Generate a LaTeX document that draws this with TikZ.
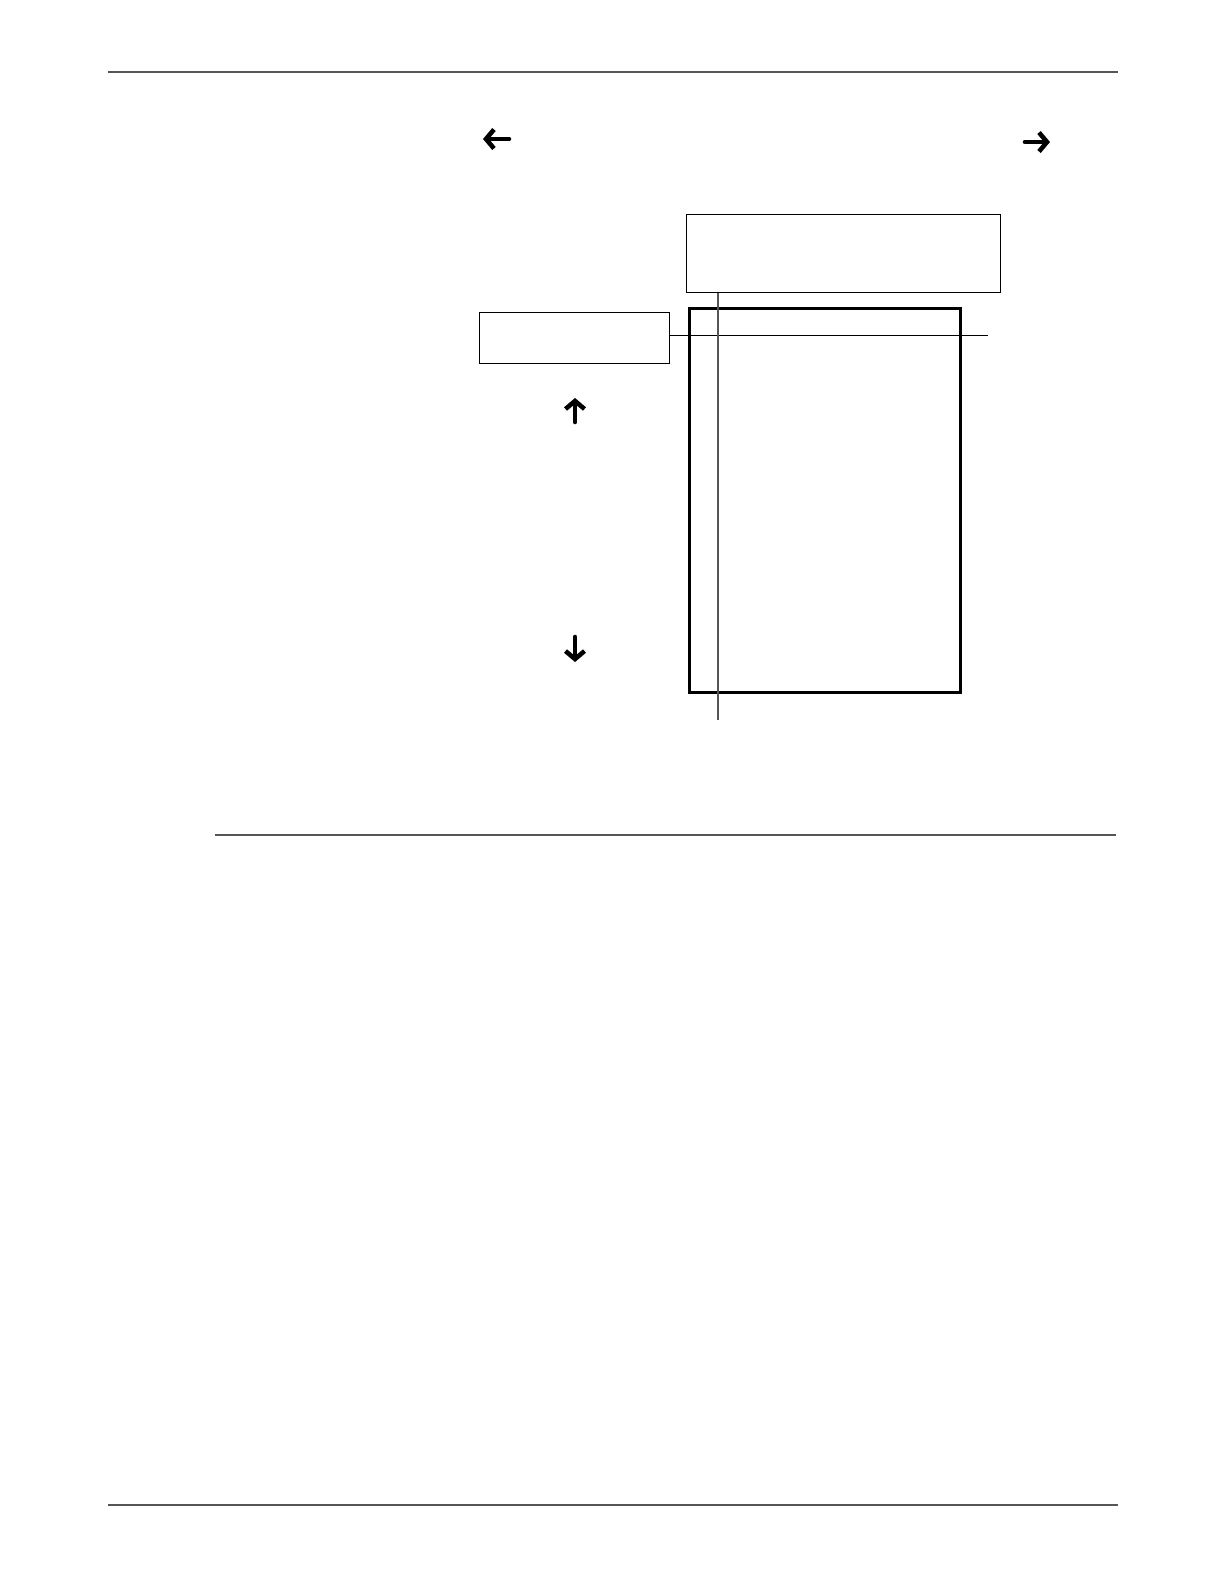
\documentclass[tikz,border=0pt]{standalone}
\usepackage{tikz}
\usetikzlibrary{positioning, arrows.meta}
\definecolor{gris}{RGB}{85, 85, 85}
\tikzset{
    caja/.style={draw, rectangle, line width=0.7pt, inner sep=0pt, anchor=north west},
    cajaGruesa/.style={draw, rectangle, line width=1.7pt, inner sep=0pt, anchor=north west},
    regla/.style={-, gris, line width=1.2pt},
    conn/.style={-, line width=0.6pt},
    guia/.style={-, gris, line width=0.6pt},
    flecha/.style={-{Straight Barb[length=1.6mm, width=3.8mm]}, line width=2.6pt, line cap=round},
}
\begin{document}
\begin{tikzpicture}
    \useasboundingbox (0,0) rectangle (24.48,-31.68);

    % reglas
    \coordinate (r1a) at (2.16,-1.44);   \coordinate (r1b) at (22.36,-1.44);
    \coordinate (r2a) at (4.30,-16.70);  \coordinate (r2b) at (22.32,-16.70);
    \coordinate (r3a) at (2.16,-30.10);  \coordinate (r3b) at (22.36,-30.10);
    \draw[regla] (r1a) -- (r1b);
    \draw[regla] (r2a) -- (r2b);
    \draw[regla] (r3a) -- (r3b);

    % cajas
    \node [caja, minimum width=3.80cm, minimum height=1.02cm] (chica) at (9.58,-6.24) {};
    \node [caja, minimum width=6.28cm, minimum height=1.56cm] (arriba) at (13.72,-4.28) {};
    \node [cajaGruesa, minimum width=5.42cm, minimum height=7.68cm] (grande) at (13.76,-6.14) {};

    % lineas
    \coordinate (hFin) at (19.76,-6.71);
    \coordinate (vFin) at (14.36,-14.40);
    \draw[conn] (chica.east |- hFin) -- (hFin);
    \draw[guia] (arriba.south -| vFin) -- (vFin);

    % flechas
    \coordinate (izqA) at (10.18,-2.78);  \coordinate (izqB) at (9.66,-2.78);
    \coordinate (derA) at (20.50,-2.84);  \coordinate (derB) at (21.00,-2.84);
    \coordinate (subA) at (11.50,-8.44);  \coordinate (subB) at (11.50,-7.96);
    \coordinate (bajA) at (11.50,-12.74); \coordinate (bajB) at (11.50,-13.24);
    \draw[flecha] (izqA) -- (izqB);
    \draw[flecha] (derA) -- (derB);
    \draw[flecha] (subA) -- (subB);
    \draw[flecha] (bajA) -- (bajB);
\end{tikzpicture}
\end{document}
